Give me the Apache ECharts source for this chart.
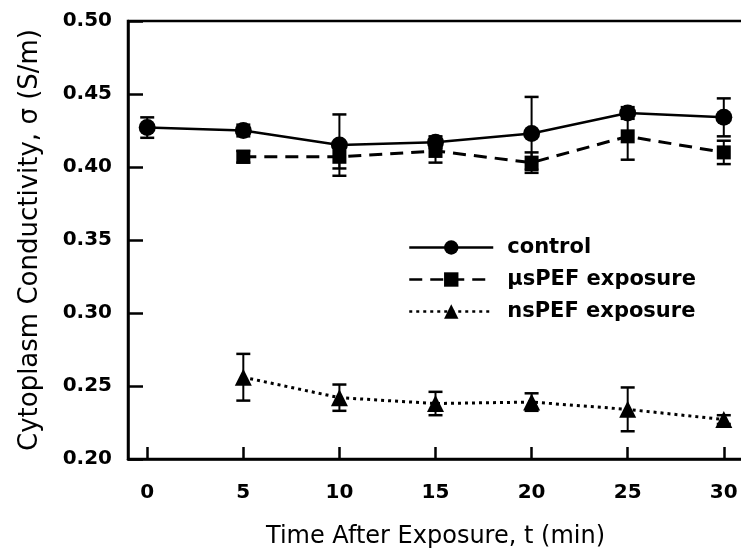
<!DOCTYPE html>
<html><head><meta charset="utf-8">
<script src="https://cdn.jsdelivr.net/npm/echarts@6/dist/echarts.min.js"></script>
<style>html,body{margin:0;padding:0;background:#fff}#c{width:741px;height:552px}</style>
</head><body><div id="c"></div>
<script>
const xTicks = [0, 5, 10, 15, 20, 25, 30];
const controlT = [0, 5, 10, 15, 20, 25, 30];
const controlV = [0.427, 0.425, 0.415, 0.417, 0.423, 0.437, 0.434];
const controlE = [0.007, 0.004, 0.021, 0.004, 0.025, 0.004, 0.013];
const usT = [5, 10, 15, 20, 25, 30];
const usV = [0.407, 0.407, 0.411, 0.403, 0.421, 0.410];
const usE = [0.004, 0.008, 0.008, 0.007, 0.016, 0.008];
const nsT = [5, 10, 15, 20, 25, 30];
const nsV = [0.256, 0.242, 0.238, 0.239, 0.234, 0.227];
const nsE = [0.016, 0.009, 0.008, 0.006, 0.015, 0.003];

const FONT = '"DejaVu Sans", sans-serif';
function pts(t, v) { return t.map((x, i) => [x, v[i]]); }
function errs(t, v, e) { return t.map((x, i) => [x, v[i] - e[i], v[i] + e[i]]); }
function errSeries(data) {
  return {
    type: 'custom', silent: true, z: 1,
    data: data,
    renderItem: function (params, api) {
      const x = api.value(0);
      const lo = api.coord([x, api.value(1)]);
      const hi = api.coord([x, api.value(2)]);
      const w = 7;
      return { type: 'group', children: [
        { type: 'line', shape: { x1: lo[0], y1: lo[1], x2: hi[0], y2: hi[1] }, style: { stroke: '#000', lineWidth: 2 } },
        { type: 'line', shape: { x1: lo[0] - w, y1: lo[1], x2: lo[0] + w, y2: lo[1] }, style: { stroke: '#000', lineWidth: 2.5 } },
        { type: 'line', shape: { x1: hi[0] - w, y1: hi[1], x2: hi[0] + w, y2: hi[1] }, style: { stroke: '#000', lineWidth: 2.5 } }
      ]};
    }
  };
}
const chart = echarts.init(document.getElementById('c'), null, { renderer: 'canvas' });
chart.setOption({
  animation: false,
  backgroundColor: '#fff',
  grid: { left: 128, top: 21, right: -2, bottom: 93, outerBoundsMode: 'none', containLabel: false,
    show: true, borderColor: '#000', borderWidth: 2.5, backgroundColor: 'transparent' },
  xAxis: {
    type: 'value', min: -1, max: 31,
    name: 'Time After Exposure, t (min)', nameLocation: 'middle', nameGap: 66,
    nameTextStyle: { fontFamily: FONT, fontSize: 24, color: '#000' },
    axisLine: { onZero: false, lineStyle: { color: '#000', width: 2.5 } },
    axisTick: { inside: true, length: 12, lineStyle: { color: '#000', width: 2.5 }, customValues: xTicks },
    axisLabel: { fontFamily: FONT, fontSize: 20, fontWeight: 'bold', color: '#000', margin: 24, customValues: xTicks },
    splitLine: { show: false }
  },
  yAxis: {
    type: 'value', min: 0.2, max: 0.5, interval: 0.05,
    name: 'Cytoplasm Conductivity, σ (S/m)', nameLocation: 'middle', nameGap: 85,
    nameTextStyle: { fontFamily: FONT, fontSize: 26, color: '#000' },
    axisLine: { onZero: false, lineStyle: { color: '#000', width: 2.5 } },
    axisTick: { inside: true, length: 15, lineStyle: { color: '#000', width: 2.5 } },
    axisLabel: { fontFamily: FONT, fontSize: 20, fontWeight: 'bold', color: '#000', margin: 16,
      formatter: v => v.toFixed(2) },
    splitLine: { show: false }
  },
  legend: {
    orient: 'vertical', left: 403, top: 232, itemGap: 11, itemWidth: 84, itemHeight: 18,
    lineStyle: { width: 2.5 },
    textStyle: { fontFamily: FONT, fontSize: 21, fontWeight: 'bold', color: '#000', padding: [0, 0, 0, 9] },
    data: ['control', 'µsPEF exposure', 'nsPEF exposure']
  },
  series: [
    errSeries(errs(nsT, nsV, nsE)),
    errSeries(errs(usT, usV, usE)),
    errSeries(errs(controlT, controlV, controlE)),
    { name: 'nsPEF exposure', type: 'line', z: 3, data: pts(nsT, nsV), symbol: 'triangle', symbolSize: 17,
      itemStyle: { color: '#000' }, lineStyle: { color: '#000', width: 3, type: [3, 4] } },
    { name: 'µsPEF exposure', type: 'line', z: 3, data: pts(usT, usV), symbol: 'rect', symbolSize: 14,
      itemStyle: { color: '#000' }, lineStyle: { color: '#000', width: 3, type: [13, 8] } },
    { name: 'control', type: 'line', z: 4, data: pts(controlT, controlV), symbol: 'circle', symbolSize: 17,
      itemStyle: { color: '#000' }, lineStyle: { color: '#000', width: 2.5 } }
  ]
});
</script></body></html>
